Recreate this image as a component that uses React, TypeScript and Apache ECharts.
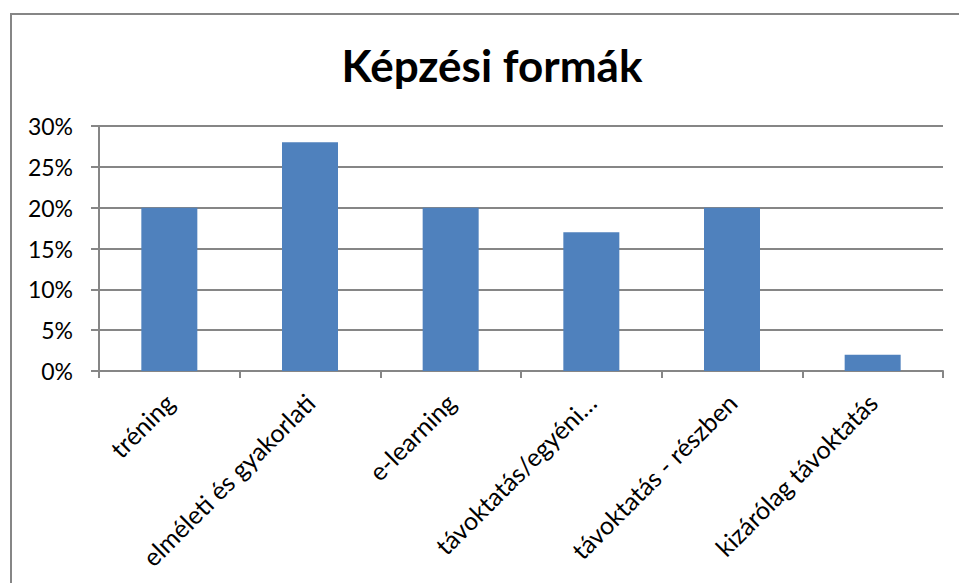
import React, { useEffect, useRef } from "react";
import * as echarts from "echarts";

const categories = [
  "tréning",
  "elméleti és gyakorlati",
  "e-learning",
  "távoktatás/egyéni…",
  "távoktatás - részben",
  "kizárólag távoktatás",
];
const values = [0.2, 0.28, 0.2, 0.17, 0.2, 0.02];
const titleText = "Képzési formák";

export default function App() {
  const ref = useRef<HTMLDivElement>(null);
  useEffect(() => {
    if (!ref.current) return;
    const chart = echarts.init(ref.current, null, { renderer: "svg" });
    const gray = "#868686";
    const font = "Lato";
    chart.setOption({
      animation: false,
      backgroundColor: "#ffffff",
      textStyle: { fontFamily: font },
      grid: { left: 99, right: 16, top: 126, bottom: 212, containLabel: false },
      graphic: [
        {
          type: "rect",
          shape: { x: 11, y: 14, width: 1100, height: 800 },
          style: { fill: "none", stroke: gray, lineWidth: 2 },
          silent: true,
        },
        {
          type: "text",
          x: 492,
          y: 65,
          style: {
            text: titleText,
            font: `bold 44px ${font}`,
            fill: "#000000",
            textAlign: "center",
            textVerticalAlign: "middle",
          },
        },
      ],
      xAxis: {
        type: "category",
        data: categories,
        axisLine: { show: true, lineStyle: { color: gray, width: 2 } },
        axisTick: { show: true, length: 7, lineStyle: { color: gray, width: 2 } },
        axisLabel: {
          interval: 0,
          rotate: 45,
          fontSize: 25,
          color: "#000000",
          fontFamily: font,
          margin: 27,
          align: "right",
          verticalAlign: "middle",
        },
      },
      yAxis: {
        type: "value",
        min: 0,
        max: 0.3,
        interval: 0.05,
        axisLine: { show: true, lineStyle: { color: gray, width: 2 } },
        axisTick: { show: true, length: 8, lineStyle: { color: gray, width: 2 } },
        splitLine: { show: true, lineStyle: { color: gray, width: 2 } },
        axisLabel: {
          fontSize: 23,
          color: "#000000",
          fontFamily: font,
          margin: 26,
          formatter: (v: number) => `${Math.round(v * 100)}%`,
        },
      },
      series: [
        {
          type: "bar",
          data: values,
          barWidth: 56,
          itemStyle: { color: "#4F81BD" },
        },
      ],
    });
    return () => chart.dispose();
  }, []);
  return (
    <div
      ref={ref}
      style={{ position: "absolute", left: 0, top: 0, width: 959, height: 583 }}
    />
  );
}
